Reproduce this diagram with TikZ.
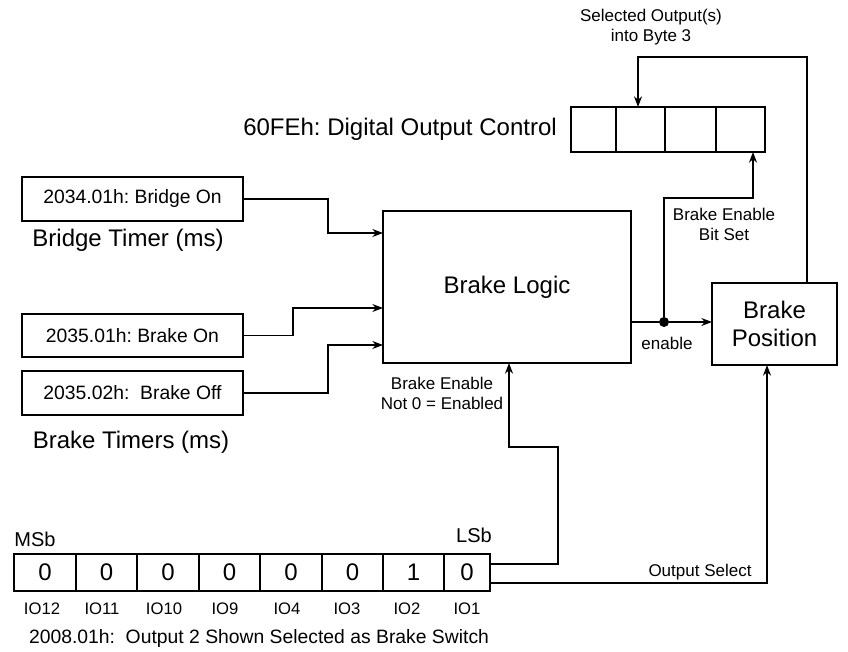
\documentclass[tikz,border=0pt]{standalone}
\usepackage{fontspec}
\setmainfont{Liberation Sans}
\usetikzlibrary{arrows.meta,calc}
\newdimen\pxu \pxu=0.75pt
\frenchspacing
\tikzset{
 box/.style={draw, line width=1pt, inner sep=0pt, outer sep=0pt},
 arr/.style={line width=1pt, -{Stealth[length=8pt,width=6pt]}},
 ln/.style={line width=1pt},
 big/.style={font=\fontsize{18}{21}\selectfont},
 mid/.style={font=\fontsize{14.5}{17}\selectfont},
 sml/.style={font=\fontsize{12.75}{15}\selectfont},
 iolbl/.style={font=\fontsize{12.5}{15}\selectfont},
 bitlbl/.style={font=\fontsize{15}{18}\selectfont},
 lbl/.style={inner sep=0pt, align=center},
}
\begin{document}
\begin{tikzpicture}[x=0.75pt,y=-0.75pt]
\useasboundingbox (0,0) rectangle (848,652);
% 60FEh output control register
\node[box, minimum width=45\pxu, minimum height=45\pxu] (c1) at (593.5,129.5) {};
\node[box, minimum width=49\pxu, minimum height=45\pxu] (c2) at (640.5,129.5) {};
\node[box, minimum width=51\pxu, minimum height=45\pxu] (c3) at (690.5,129.5) {};
\node[box, minimum width=49\pxu, minimum height=45\pxu] (c4) at (740.5,129.5) {};
\node[big, lbl, anchor=east] (doc) at (557,129) {60FEh: Digital Output Control};
\node[sml, lbl] (sel) at (651,27.5) {Selected Output(s)\\into Byte 3};
% timer boxes
\node[box, mid, minimum width=221\pxu, minimum height=44\pxu] (b1) at (132.5,199) {2034.01h: Bridge On};
\node[box, mid, minimum width=221\pxu, minimum height=43\pxu] (b2) at (132.5,335.5) {2035.01h: Brake On};
\node[box, mid, minimum width=221\pxu, minimum height=44\pxu] (b3) at (132.5,393) {2035.02h:\ \ Brake Off};
\node[big, lbl] (bt) at (128,240) {Bridge Timer (ms)};
\node[big, lbl] (bts) at (131,442) {Brake Timers (ms)};
% logic blocks
\node[box, big, minimum width=248\pxu, minimum height=152\pxu] (bl) at (507,287) {Brake Logic};
\node[box, big, align=center, minimum width=125\pxu, minimum height=82\pxu] (bpos) at (774.5,324) {Brake\\Position};
% timer connectors
\draw[arr] (b1.east) -- ++(85,0) |- ($(bl.north west)+(0,22)$);
\draw[arr] (b2.east) -- ++(50,0) |- ($(bl.north west)+(0,97)$);
\draw[arr] (b3.east) -- ++(85,0) |- ($(bl.north west)+(0,134)$);
% enable
\node[circle, fill, inner sep=0pt, minimum size=10\pxu] (dot) at (664,322) {};
\draw[ln] (bl.east |- dot) -- (dot);
\draw[arr] (dot) -- (bpos.west |- dot);
\node[sml, lbl] (en) at (667,343) {enable};
\draw[arr] (dot) |- ($(c4.south)+(12.5,46)$) -- ($(c4.south)+(12.5,0)$);
\node[sml, lbl] (bebs) at (724,224) {Brake Enable\\Bit Set};
\draw[arr] ($(bpos.north)+(32.5,0)$) |- ($(c2.north)+(-2.5,-50)$) -- ($(c2.north)+(-2.5,0)$);
% 2008.01h register
\foreach \i/\cx/\w/\d/\t/\tx in {1/45/62/0/IO12/42, 2/106.5/61/0/IO11/102, 3/168/62/0/IO10/164, 4/229.5/61/0/IO9/225, 5/291/62/0/IO4/287, 6/352.5/61/0/IO3/347, 7/413.5/61/1/IO2/407, 8/467/46/0/IO1/467}{
  \node[box, big, minimum width=\w\pxu, minimum height=37\pxu] (r\i) at (\cx,572.5) {\d};
  \node[iolbl, lbl] (io\i) at (\tx,609) {\t};
}
\node[bitlbl, lbl] (msb) at (35,539) {MSb};
\node[bitlbl, lbl] (lsb) at (474,535) {LSb};
\node[mid, lbl] (cap) at (259,638) {2008.01h:\ \ Output 2 Shown Selected as Brake Switch};
\draw[arr] ($(r8.east)+(0,-8.5)$) -- ++(68,0) |- ($(bl.south)+(2,84)$) -- ($(bl.south)+(2,0)$);
\node[sml, lbl] (be0) at (442,393.5) {Brake Enable\\Not 0 = Enabled};
\draw[arr] ($(r8.east)+(0,10.5)$) -| ($(bpos.south)+(-7.5,0)$);
\node[sml, lbl] (os) at (700,572) {Output Select};
\end{tikzpicture}
\end{document}
